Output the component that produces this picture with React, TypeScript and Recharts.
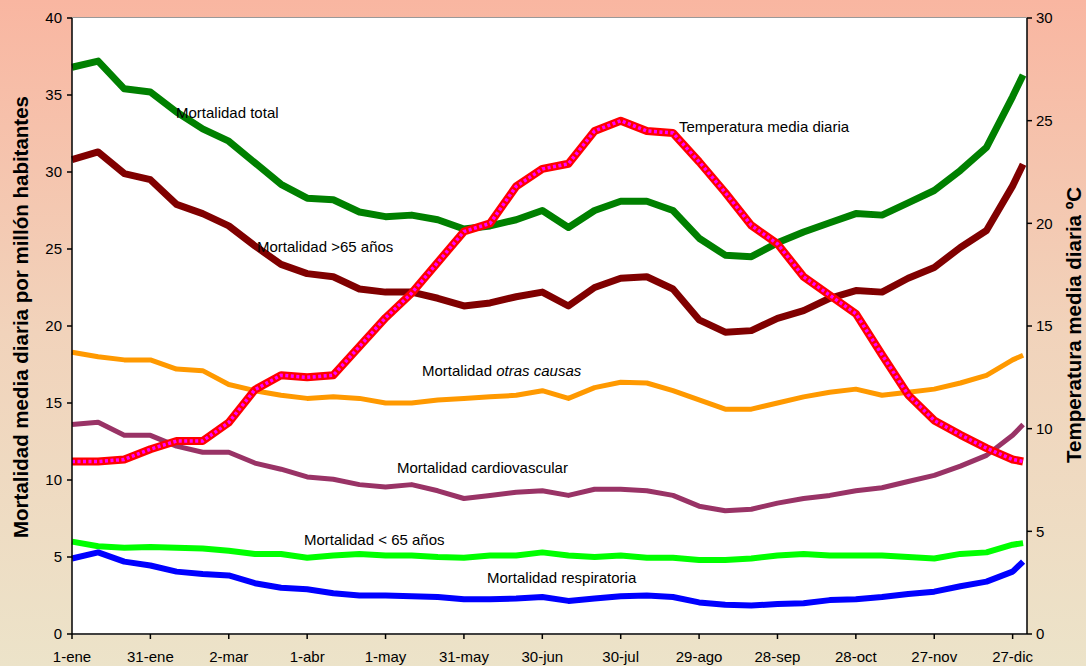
import React from 'react';
import { LineChart, Line, XAxis, YAxis } from 'recharts';

// day of year (every 10 days + last day)
const days = [1, 11, 21, 31, 41, 51, 61, 71, 81, 91, 101, 111, 121, 131, 141, 151, 161, 171, 181, 191, 201, 211, 221, 231, 241, 251, 261, 271, 281, 291, 301, 311, 321, 331, 341, 351, 361, 365];

const total = [36.8, 37.2, 35.4, 35.2, 33.9, 32.8, 32.0, 30.6, 29.2, 28.3, 28.2, 27.4, 27.1, 27.2, 26.9, 26.3, 26.5, 26.9, 27.5, 26.4, 27.5, 28.1, 28.1, 27.5, 25.7, 24.6, 24.5, 25.4, 26.1, 26.7, 27.3, 27.2, 28.0, 28.8, 30.1, 31.6, 34.9, 36.3];
const mayores65 = [30.8, 31.3, 29.9, 29.5, 27.9, 27.3, 26.5, 25.2, 24.0, 23.4, 23.2, 22.4, 22.2, 22.2, 21.8, 21.3, 21.5, 21.9, 22.2, 21.3, 22.5, 23.1, 23.2, 22.4, 20.4, 19.6, 19.7, 20.5, 21.0, 21.8, 22.3, 22.2, 23.1, 23.8, 25.1, 26.2, 29.1, 30.5];
const otras = [18.3, 18.0, 17.8, 17.8, 17.2, 17.1, 16.2, 15.8, 15.5, 15.3, 15.4, 15.3, 15.0, 15.0, 15.2, 15.3, 15.4, 15.5, 15.8, 15.3, 16.0, 16.35, 16.3, 15.8, 15.2, 14.6, 14.6, 15.0, 15.4, 15.7, 15.9, 15.5, 15.7, 15.9, 16.3, 16.8, 17.8, 18.1];
const cardio = [13.6, 13.75, 12.9, 12.9, 12.2, 11.8, 11.8, 11.1, 10.7, 10.2, 10.05, 9.7, 9.55, 9.7, 9.3, 8.8, 9.0, 9.2, 9.3, 9.0, 9.4, 9.4, 9.3, 9.0, 8.3, 8.0, 8.1, 8.5, 8.8, 9.0, 9.3, 9.5, 9.9, 10.3, 10.9, 11.6, 12.9, 13.6];
const menores65 = [6.0, 5.7, 5.6, 5.65, 5.6, 5.55, 5.4, 5.2, 5.2, 4.95, 5.1, 5.2, 5.1, 5.1, 5.0, 4.95, 5.1, 5.1, 5.3, 5.1, 5.0, 5.1, 4.95, 4.95, 4.8, 4.8, 4.9, 5.1, 5.2, 5.1, 5.1, 5.1, 5.0, 4.9, 5.2, 5.3, 5.8, 5.9];
const respiratoria = [4.9, 5.3, 4.7, 4.45, 4.05, 3.9, 3.8, 3.3, 3.0, 2.9, 2.65, 2.5, 2.5, 2.45, 2.4, 2.25, 2.25, 2.3, 2.4, 2.15, 2.3, 2.45, 2.5, 2.4, 2.05, 1.9, 1.85, 1.95, 2.0, 2.2, 2.25, 2.4, 2.6, 2.75, 3.1, 3.4, 4.05, 4.7];
const temperatura = [8.4, 8.4, 8.5, 9.0, 9.4, 9.4, 10.3, 11.9, 12.6, 12.5, 12.6, 14.0, 15.4, 16.6, 18.1, 19.6, 20.0, 21.8, 22.65, 22.9, 24.5, 25.0, 24.5, 24.4, 23.0, 21.5, 19.9, 19.0, 17.4, 16.5, 15.6, 13.6, 11.65, 10.4, 9.7, 9.05, 8.5, 8.4];

const xTicks = [1, 31, 61, 91, 121, 151, 181, 211, 241, 271, 301, 331, 361];
const xLabels = ['1-ene', '31-ene', '2-mar', '1-abr', '1-may', '31-may', '30-jun', '30-jul', '29-ago', '28-sep', '28-oct', '27-nov', '27-dic'];
const leftTicks = [0, 5, 10, 15, 20, 25, 30, 35, 40];
const rightTicks = [0, 5, 10, 15, 20, 25, 30];

const data = days.map((d, i) => ({
  day: d,
  total: total[i],
  mayores65: mayores65[i],
  otras: otras[i],
  cardio: cardio[i],
  menores65: menores65[i],
  respiratoria: respiratoria[i],
  temperatura: temperatura[i],
}));

const FONT = 'Arial, "Liberation Sans", sans-serif';
const tickStyle = { fontSize: 15, fill: '#000', fontFamily: FONT };

export default function App() {
  return (
    <div
      style={{
        position: 'absolute',
        left: 0,
        top: 0,
        width: 1086,
        height: 666,
        background: 'linear-gradient(to bottom, #f9b6a1 0%, #f1d3bb 50%, #ece3c9 100%)',
        fontFamily: FONT,
      }}
    >
      {/* plot area background */}
      <div style={{ position: 'absolute', left: 72, top: 17, width: 955, height: 617, background: '#fff', borderTop: '1px solid #999' }} />
      <div style={{ position: 'absolute', left: 0, top: 0 }}>
        <LineChart width={1086} height={666} data={data} margin={{ top: 18, right: 0, bottom: 0, left: 0 }}>
          <XAxis
            dataKey="day"
            type="number"
            domain={[1, 366.5]}
            ticks={xTicks}
            tickFormatter={(v: number) => xLabels[xTicks.indexOf(v)]}
            tick={tickStyle}
            tickSize={5}
            tickMargin={12}
            height={32}
            stroke="#000"
            strokeWidth={1.5}
          />
          <YAxis
            yAxisId="left"
            domain={[0, 40]}
            ticks={leftTicks}
            tick={tickStyle}
            tickSize={5}
            tickMargin={5}
            width={72}
            stroke="#000"
            strokeWidth={1.5}
          />
          <YAxis
            yAxisId="right"
            orientation="right"
            domain={[0, 30]}
            ticks={rightTicks}
            tick={tickStyle}
            tickSize={5}
            tickMargin={4}
            width={59}
            stroke="#000"
            strokeWidth={1.5}
          />
          <Line yAxisId="left" type="linear" dataKey="total" stroke="#008000" strokeWidth={7} dot={false} strokeLinejoin="round" isAnimationActive={false} />
          <Line yAxisId="left" type="linear" dataKey="mayores65" stroke="#800000" strokeWidth={7} dot={false} strokeLinejoin="round" isAnimationActive={false} />
          <Line yAxisId="left" type="linear" dataKey="otras" stroke="#ff9900" strokeWidth={5} dot={false} strokeLinejoin="round" isAnimationActive={false} />
          <Line yAxisId="left" type="linear" dataKey="cardio" stroke="#993366" strokeWidth={5} dot={false} strokeLinejoin="round" isAnimationActive={false} />
          <Line yAxisId="left" type="linear" dataKey="menores65" stroke="#00ff00" strokeWidth={6} dot={false} strokeLinejoin="round" isAnimationActive={false} />
          <Line yAxisId="left" type="linear" dataKey="respiratoria" stroke="#0000ff" strokeWidth={6} dot={false} strokeLinejoin="round" isAnimationActive={false} />
          <Line yAxisId="right" type="linear" dataKey="temperatura" stroke="#ff0000" strokeWidth={8} dot={false} strokeLinejoin="round" isAnimationActive={false} />
          <Line yAxisId="right" type="linear" dataKey="temperatura" stroke="#ff00ff" strokeWidth={3.5} strokeDasharray="3 2.5" dot={false} isAnimationActive={false} />
        </LineChart>
      </div>
      {/* series labels and axis titles */}
      <svg width={1086} height={666} style={{ position: 'absolute', left: 0, top: 0, pointerEvents: 'none' }}>
        <g fontFamily={FONT} fontSize={15} fill="#000">
          <text x={176} y={118}>Mortalidad total</text>
          <text x={679} y={132}>Temperatura media diaria</text>
          <text x={257} y={252}>Mortalidad &gt;65 años</text>
          <text x={422} y={376}>
            Mortalidad <tspan fontStyle="italic">otras causas</tspan>
          </text>
          <text x={397} y={473}>Mortalidad cardiovascular</text>
          <text x={304} y={545}>Mortalidad &lt; 65 años</text>
          <text x={487} y={583}>Mortalidad respiratoria</text>
        </g>
        <text
          x={20}
          y={317}
          transform="rotate(-90 20 317)"
          textAnchor="middle"
          dominantBaseline="central"
          fontFamily={FONT}
          fontSize={20.5}
          fontWeight="bold"
          fill="#000"
        >
          Mortalidad media diaria por millón habitantes
        </text>
        <text
          x={1073}
          y={325}
          transform="rotate(-90 1073 325)"
          textAnchor="middle"
          dominantBaseline="central"
          fontFamily={FONT}
          fontSize={20.5}
          fontWeight="bold"
          fill="#000"
        >
          Temperatura media diaria ºC
        </text>
      </svg>
    </div>
  );
}
